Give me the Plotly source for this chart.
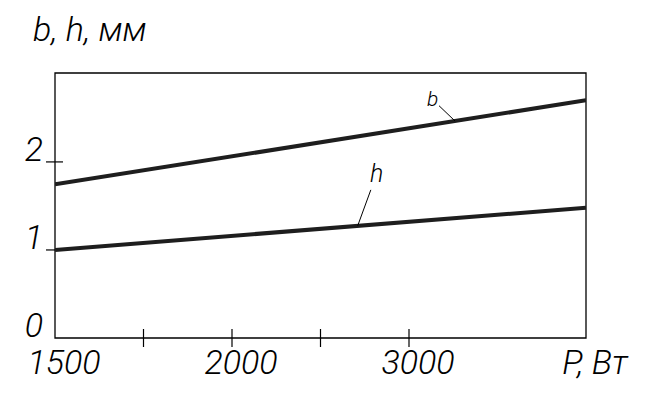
import plotly.graph_objects as go
import numpy as np

# Data (axis positions: 0 -> 1500 W, 2 -> 2000 W, 4 -> 3000 W, 6 -> right end)
p_pos = [0, 6]
b_vals = [1.745, 2.70]
h_vals = [1.0, 1.48]

x_tick_pos = [0, 2, 4, 6]
x_tick_text = ["1500", "2000", "3000", "P, Вт"]
x_mark_pos = [1, 2, 3, 4]
y_tick_pos = [0, 1, 2]
y_tick_text = ["0", "1", "2"]
y_mark_pos = [1, 2]

FONT = "Roboto, sans-serif"
LINE_COLOR = "#1e1e1e"
TF = dict(family=FONT, size=34, color="black", style="italic", weight=300)

fig = go.Figure()
fig.add_trace(go.Scatter(x=p_pos, y=b_vals, mode="lines",
                         line=dict(color=LINE_COLOR, width=4), name="b",
                         showlegend=False, cliponaxis=False))
fig.add_trace(go.Scatter(x=p_pos, y=h_vals, mode="lines",
                         line=dict(color=LINE_COLOR, width=4), name="h",
                         showlegend=False, cliponaxis=False))

shapes = []
# frame
shapes.append(dict(type="rect", xref="paper", yref="paper", x0=0, y0=0, x1=1, y1=1,
                   line=dict(color="black", width=1.3), layer="below"))
for xp in x_mark_pos:
    shapes.append(dict(type="line", xref="x", yref="paper", ysizemode="pixel", yanchor=0,
                       x0=xp, x1=xp, y0=-9, y1=9, line=dict(color="black", width=1.2)))
for yp in y_mark_pos:
    shapes.append(dict(type="line", yref="y", xref="paper", xsizemode="pixel", xanchor=0,
                       y0=yp, y1=yp, x0=-9, x1=8 if yp == 2 else 0,
                       line=dict(color="black", width=1.2)))

# leader positions on the lines
b_at = 4.52
h_at = 3.42
b_y = float(np.interp(b_at, p_pos, b_vals))
h_y = float(np.interp(h_at, p_pos, h_vals))

annotations = [
    dict(text="b", x=b_at, y=b_y, xref="x", yref="y", showarrow=True, arrowhead=0,
         arrowwidth=1, arrowcolor="black", ax=-23, ay=-22, standoff=0,
         font=dict(family=FONT, size=21, color="black", style="italic", weight=300)),
    dict(text="h", x=h_at, y=h_y, xref="x", yref="y", showarrow=True, arrowhead=0,
         arrowwidth=1, arrowcolor="black", ax=19, ay=-52, standoff=0,
         font=dict(family=FONT, size=25, color="black", style="italic", weight=300)),
    dict(text="b, h, мм", x=0, y=1, xref="paper", yref="paper", showarrow=False,
         xanchor="left", yanchor="bottom", xshift=-24, yshift=22,
         font=dict(family=FONT, size=34, color="black", style="italic", weight=300)),
]

fig.update_layout(
    width=658, height=408,
    margin=dict(l=55, r=72, t=73, b=70, autoexpand=False),
    paper_bgcolor="white", plot_bgcolor="white",
    shapes=shapes, annotations=annotations,
    font=dict(family=FONT, color="black"),
)
fig.update_xaxes(range=[0, 6], tickvals=x_tick_pos, ticktext=x_tick_text, ticks="",
                 showgrid=False, zeroline=False, showline=False, automargin=False,
                 tickfont=TF, ticklabelshift=9, ticklabelstandoff=1)
fig.update_yaxes(range=[0, 3.01], tickvals=y_tick_pos, ticktext=y_tick_text, ticks="",
                 showgrid=False, zeroline=False, showline=False, automargin=False,
                 tickfont=TF, ticklabelshift=-13, ticklabelstandoff=11)

fig.write_html("out.html", config={"displayModeBar": False},
               post_script="document.body.style.margin='0';")
